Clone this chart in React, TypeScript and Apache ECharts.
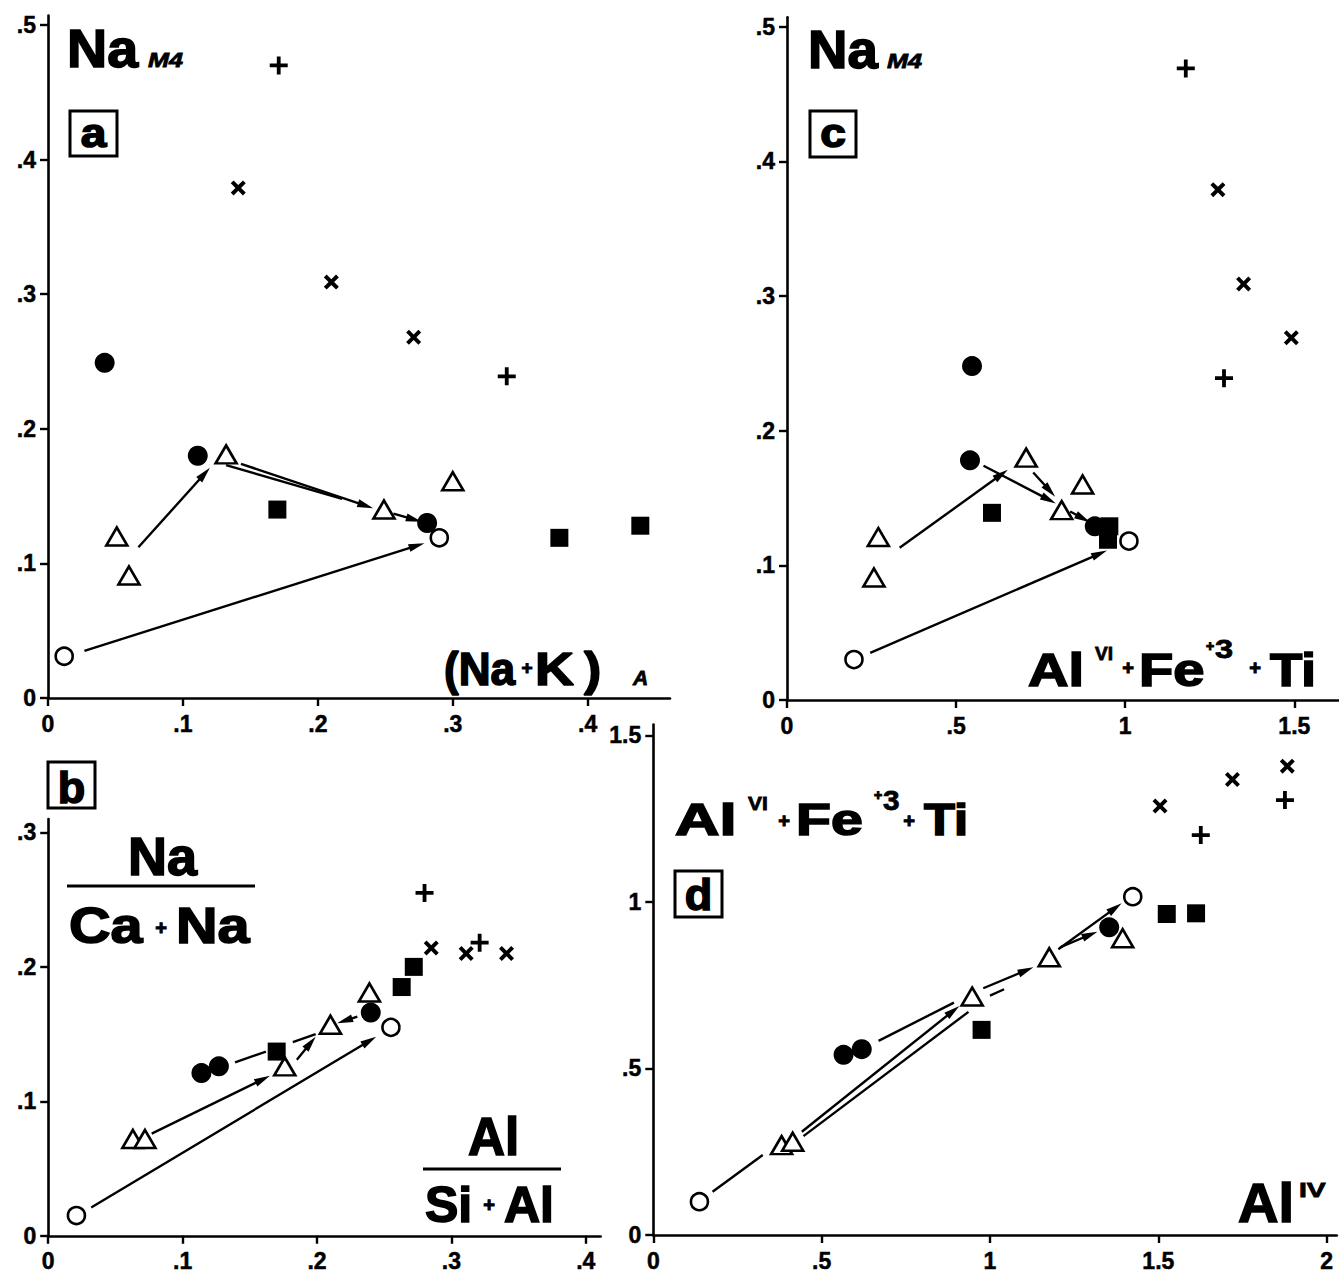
import React, { useEffect, useRef } from 'react';
import * as echarts from 'echarts';

const FONT = '"Liberation Sans", Arial, Helvetica, sans-serif';

// ---------- Panel a : Na(M4) vs (Na+K)A ----------
const aOpenCircle = [[0.012, 0.031], [0.29, 0.119]];
const aFilledCircle = [[0.042, 0.249], [0.111, 0.18], [0.281, 0.13]];
const aOpenTriangle = [[0.051, 0.12], [0.06, 0.091], [0.132, 0.181], [0.249, 0.14], [0.3, 0.161]];
const aFilledSquare = [[0.17, 0.14], [0.379, 0.119], [0.439, 0.128]];
const aPlus = [[0.171, 0.47], [0.34, 0.239]];
const aCross = [[0.141, 0.379], [0.21, 0.309], [0.271, 0.268]];
// [x1, y1, x2, y2, arrowhead]
const aArrows = [
  [0.067, 0.112, 0.12, 0.171, 1],
  [0.143, 0.174, 0.241, 0.141, 1],
  [0.132, 0.173, 0.218, 0.148, 0],
  [0.256, 0.137, 0.277, 0.131, 1],
  [0.027, 0.035, 0.279, 0.115, 1],
];
const aXTicks = [0, 0.1, 0.2, 0.3, 0.4];
const aYTicks = [0, 0.1, 0.2, 0.3, 0.4, 0.5];

// ---------- Panel b : Na/(Ca+Na) vs Al/(Si+Al) ----------
const bOpenCircle = [[0.021, 0.015], [0.255, 0.155]];
const bFilledCircle = [[0.114, 0.121], [0.127, 0.126], [0.24, 0.166]];
const bOpenTriangle = [[0.063, 0.072], [0.072, 0.072], [0.176, 0.126], [0.21, 0.157], [0.239, 0.181]];
const bFilledSquare = [[0.17, 0.137], [0.263, 0.185], [0.272, 0.2]];
const bPlus = [[0.28, 0.255], [0.321, 0.218]];
const bCross = [[0.285, 0.214], [0.311, 0.21], [0.341, 0.21]];
const bArrows = [
  [0.077, 0.076, 0.165, 0.119, 1],
  [0.139, 0.129, 0.162, 0.137, 0],
  [0.182, 0.144, 0.199, 0.15, 0],
  [0.185, 0.131, 0.199, 0.148, 1],
  [0.23, 0.163, 0.215, 0.158, 1],
  [0.032, 0.021, 0.244, 0.148, 1],
];
const bXTicks = [0, 0.1, 0.2, 0.3, 0.4];
const bYTicks = [0, 0.1, 0.2, 0.3];

// ---------- Panel c : Na(M4) vs AlVI+Fe3+Ti ----------
const cOpenCircle = [[0.198, 0.03], [1.011, 0.118]];
const cFilledCircle = [[0.547, 0.248], [0.541, 0.178], [0.91, 0.129]];
const cOpenTriangle = [[0.27, 0.121], [0.257, 0.091], [0.707, 0.18], [0.812, 0.141], [0.874, 0.16]];
const cFilledSquare = [[0.606, 0.139], [0.953, 0.129], [0.949, 0.119]];
const cPlus = [[1.179, 0.469], [1.292, 0.239]];
const cCross = [[1.274, 0.379], [1.35, 0.309], [1.491, 0.269]];
const cArrows = [
  [0.333, 0.113, 0.653, 0.171, 1],
  [0.581, 0.174, 0.795, 0.146, 1],
  [0.728, 0.169, 0.793, 0.151, 1],
  [0.837, 0.14, 0.896, 0.132, 1],
  [0.246, 0.035, 0.946, 0.111, 1],
];
const cXTicks = [0, 0.5, 1, 1.5];
const cYTicks = [0, 0.1, 0.2, 0.3, 0.4, 0.5];

// ---------- Panel d : AlVI+Fe3+Ti vs AlIV ----------
const dOpenCircle = [[0.137, 0.1], [1.424, 1.016]];
const dFilledCircle = [[0.565, 0.541], [0.619, 0.558], [1.354, 0.924]];
const dOpenTriangle = [[0.381, 0.27], [0.414, 0.28], [0.947, 0.716], [1.176, 0.834], [1.394, 0.891]];
const dFilledSquare = [[0.975, 0.616], [1.525, 0.964], [1.612, 0.966]];
const dPlus = [[1.626, 1.201], [1.876, 1.306]];
const dCross = [[1.505, 1.288], [1.72, 1.368], [1.883, 1.408]];
const dArrows = [
  [0.176, 0.13, 0.325, 0.24, 0],
  [0.441, 0.31, 0.909, 0.688, 1],
  [0.446, 0.297, 0.936, 0.67, 0],
  [0.669, 0.583, 0.893, 0.698, 0],
  [0.98, 0.741, 1.129, 0.804, 1],
  [1.0, 0.719, 1.042, 0.738, 0],
  [1.203, 0.858, 1.391, 0.996, 1],
  [1.208, 0.864, 1.319, 0.911, 1],
];
const dXTicks = [0, 0.5, 1, 1.5, 2];
const dYTicks = [0, 0.5, 1, 1.5];

const fmt = (v: number) => (v === 0 ? '0' : String(Math.round(v * 100) / 100).replace(/^0\./, '.'));

const PLUS_PATH = 'path://M7.1,0H10.9V7.1H18V10.9H10.9V18H7.1V10.9H0V7.1H7.1Z';
const CROSS_PATH = 'path://M0,2.6L2.6,0L7,4.4L11.4,0L14,2.6L9.6,7L14,11.4L11.4,14L7,9.6L2.6,14L0,11.4L4.4,7Z';

const SYM: Record<string, any> = {
  openCircle: { symbol: 'circle', symbolSize: 17, itemStyle: { color: '#fff', borderColor: '#000', borderWidth: 2.6, opacity: 1 } },
  filledCircle: { symbol: 'circle', symbolSize: 20, itemStyle: { color: '#000', opacity: 1 } },
  openTriangle: { symbol: 'triangle', symbolSize: [21, 18], itemStyle: { color: '#fff', borderColor: '#000', borderWidth: 2.6, opacity: 1 } },
  filledSquare: { symbol: 'rect', symbolSize: 18, itemStyle: { color: '#000', opacity: 1 } },
  plus: { symbol: PLUS_PATH, symbolSize: 18, itemStyle: { color: '#000', opacity: 1 } },
  cross: { symbol: CROSS_PATH, symbolSize: 15, itemStyle: { color: '#000', opacity: 1 } },
};

function scatter(idx: number, data: number[][], kind: string) {
  return { type: 'scatter', xAxisIndex: idx, yAxisIndex: idx, data, z: 5, silent: true, ...SYM[kind] };
}

function arrows(idx: number, data: number[][]) {
  return {
    type: 'custom', xAxisIndex: idx, yAxisIndex: idx, data, z: 3, silent: true, clip: false,
    encode: { x: [0, 2], y: [1, 3] },
    renderItem: (_p: any, api: any) => {
      const p1 = api.coord([api.value(0), api.value(1)]);
      const p2 = api.coord([api.value(2), api.value(3)]);
      const head = api.value(4);
      const children: any[] = [];
      const dx = p2[0] - p1[0];
      const dy = p2[1] - p1[1];
      const L = Math.hypot(dx, dy) || 1;
      const ux = dx / L;
      const uy = dy / L;
      const len = 16;
      const half = 4;
      const bx = p2[0] - ux * len;
      const by = p2[1] - uy * len;
      children.push({
        type: 'line',
        shape: { x1: p1[0], y1: p1[1], x2: head ? bx + ux * 4 : p2[0], y2: head ? by + uy * 4 : p2[1] },
        style: { stroke: '#000', lineWidth: 2.4 },
      });
      if (head) {
        children.push({
          type: 'polygon',
          shape: { points: [[p2[0], p2[1]], [bx - uy * half, by + ux * half], [bx + uy * half, by - ux * half]] },
          style: { fill: '#000' },
        });
      }
      return { type: 'group', children };
    },
  };
}

function axis(gridIndex: number, min: number, max: number, ticks: number[], isY: boolean) {
  return {
    type: 'value', gridIndex, min, max,
    axisLine: { show: true, onZero: false, lineStyle: { color: '#000', width: 2.6 } },
    axisTick: { show: true, inside: false, length: 8, lineStyle: { color: '#000', width: 2.4 }, customValues: ticks },
    axisLabel: {
      show: true, customValues: ticks, formatter: fmt, margin: isY ? 12 : 14,
      color: '#000', fontFamily: FONT, fontWeight: 'bold', fontSize: 23, lineHeight: 23,
      textBorderColor: '#000', textBorderWidth: 0.5,
    },
    splitLine: { show: false },
  };
}

function T(text: string, x: number, baseline: number, fs: number, o: any = {}) {
  const align = o.align || 'left';
  return {
    type: 'text', x, y: baseline - 0.35 * fs, scaleX: o.sx || 1, z: 100, silent: true,
    style: {
      text, fontSize: fs, fontFamily: FONT, fontWeight: 'bold', fontStyle: o.italic ? 'italic' : 'normal',
      fill: '#000', stroke: '#000', lineWidth: fs >= 35 ? 1.6 : 0.8,
      align, verticalAlign: 'middle', textAlign: align, textVerticalAlign: 'middle',
    },
  };
}
function P(text: string, cx: number, cy: number, fs: number) {
  return {
    type: 'text', x: cx, y: cy, z: 100, silent: true,
    style: {
      text, fontSize: fs, fontFamily: FONT, fontWeight: 'bold', fill: '#000', stroke: '#000', lineWidth: 1,
      align: 'center', verticalAlign: 'middle', textAlign: 'center', textVerticalAlign: 'middle',
    },
  };
}
function box(x: number, y: number, w: number, h: number) {
  return { type: 'rect', z: 100, silent: true, shape: { x, y, width: w, height: h }, style: { fill: 'none', stroke: '#000', lineWidth: 3 } };
}
function hline(x1: number, x2: number, y: number) {
  return { type: 'line', z: 100, silent: true, shape: { x1, y1: y, x2, y2: y }, style: { stroke: '#000', lineWidth: 3 } };
}

function buildOption() {
  const grids = [
    { left: 48, top: 15.6, width: 622, height: 682.4 },   // a
    { left: 48.2, top: 819, width: 552.4, height: 417 },   // b
    { left: 787, top: 17.3, width: 552, height: 682.7 },   // c
    { left: 653.3, top: 724.5, width: 683.5, height: 510.5 }, // d
  ];
  const xAxes = [
    axis(0, 0, 0.461, aXTicks, false),
    axis(1, 0, 0.411, bXTicks, false),
    axis(2, 0, 1.632, cXTicks, false),
    axis(3, 0, 2.03, dXTicks, false),
  ];
  const yAxes = [
    axis(0, 0, 0.507, aYTicks, true),
    axis(1, 0, 0.31, bYTicks, true),
    axis(2, 0, 0.507, cYTicks, true),
    axis(3, 0, 1.533, dYTicks, true),
  ];
  const panels = [
    [aOpenCircle, aFilledCircle, aOpenTriangle, aFilledSquare, aPlus, aCross, aArrows],
    [bOpenCircle, bFilledCircle, bOpenTriangle, bFilledSquare, bPlus, bCross, bArrows],
    [cOpenCircle, cFilledCircle, cOpenTriangle, cFilledSquare, cPlus, cCross, cArrows],
    [dOpenCircle, dFilledCircle, dOpenTriangle, dFilledSquare, dPlus, dCross, dArrows],
  ];
  const kinds = ['openCircle', 'filledCircle', 'openTriangle', 'filledSquare', 'plus', 'cross'];
  const series: any[] = [];
  panels.forEach((p, i) => {
    series.push(arrows(i, p[6] as number[][]));
    kinds.forEach((k, j) => series.push(scatter(i, p[j] as number[][], k)));
  });

  const graphics = [
    // panel a
    T('Na', 67, 67, 54, { sx: 1.03 }),
    T('M4', 148, 67, 21, { italic: true, sx: 1.2 }),
    box(70, 111, 47, 45),
    T('a', 93.5, 147, 40, { align: 'center', sx: 1.15 }),
    T('(Na', 444, 685, 47, { sx: 0.94 }),
    P('+', 527, 667, 19),
    T('K', 535, 685, 47, { sx: 1.15 }),
    T(')', 584, 685, 47, { sx: 1.1 }),
    T('A', 633, 685, 21, { italic: true }),
    // panel c
    T('Na', 808, 68, 53, { sx: 1.03 }),
    T('M4', 887, 68, 21, { italic: true, sx: 1.2 }),
    box(810, 111, 46, 46),
    T('c', 833, 147, 40, { align: 'center', sx: 1.15 }),
    T('Al', 1028, 686, 46, { sx: 1.22 }),
    T('VI', 1095, 660, 19),
    P('+', 1128, 668, 20),
    T('Fe', 1139, 686, 46, { sx: 1.22 }),
    P('+', 1210, 646, 14),
    T('3', 1215, 658, 26, { sx: 1.25 }),
    P('+', 1255, 668, 20),
    T('Ti', 1270, 686, 46, { sx: 1.15 }),
    // panel b
    box(48, 762, 47, 46),
    T('b', 71.5, 803, 45, { align: 'center' }),
    T('Na', 128, 875, 54),
    hline(67, 255, 886),
    T('Ca', 69, 943, 50, { sx: 1.15 }),
    P('+', 161, 928, 20),
    T('Na', 176, 943, 50, { sx: 1.15 }),
    T('Al', 468, 1155, 54, { sx: 0.95 }),
    hline(423, 561, 1169),
    T('Si', 425, 1222, 50),
    P('+', 489, 1205, 20),
    T('Al', 504, 1222, 50),
    // panel d
    T('Al', 675, 835, 44, { sx: 1.4 }),
    T('VI', 748, 810, 19, { sx: 1.1 }),
    P('+', 784, 821, 20),
    T('Fe', 796, 835, 44, { sx: 1.3 }),
    P('+', 878, 795, 14),
    T('3', 883, 810, 27, { sx: 1.1 }),
    P('+', 909, 821, 20),
    T('Ti', 924, 835, 44, { sx: 1.15 }),
    box(675, 871, 47, 46),
    T('d', 698.5, 910, 45, { align: 'center' }),
    T('Al', 1238, 1222, 56),
    T('IV', 1299, 1197, 21, { sx: 1.35 }),
  ];

  return {
    animation: false,
    backgroundColor: '#fff',
    textStyle: { fontFamily: FONT },
    grid: grids,
    xAxis: xAxes,
    yAxis: yAxes,
    series,
    graphic: { elements: graphics },
  };
}

export default function App() {
  const ref = useRef<HTMLDivElement>(null);
  useEffect(() => {
    document.body.style.margin = '0';
    const chart = echarts.init(ref.current as HTMLDivElement, null, { renderer: 'svg' });
    chart.setOption(buildOption() as any);
    return () => chart.dispose();
  }, []);
  return <div ref={ref} style={{ width: 1339, height: 1273, background: '#fff' }} />;
}
